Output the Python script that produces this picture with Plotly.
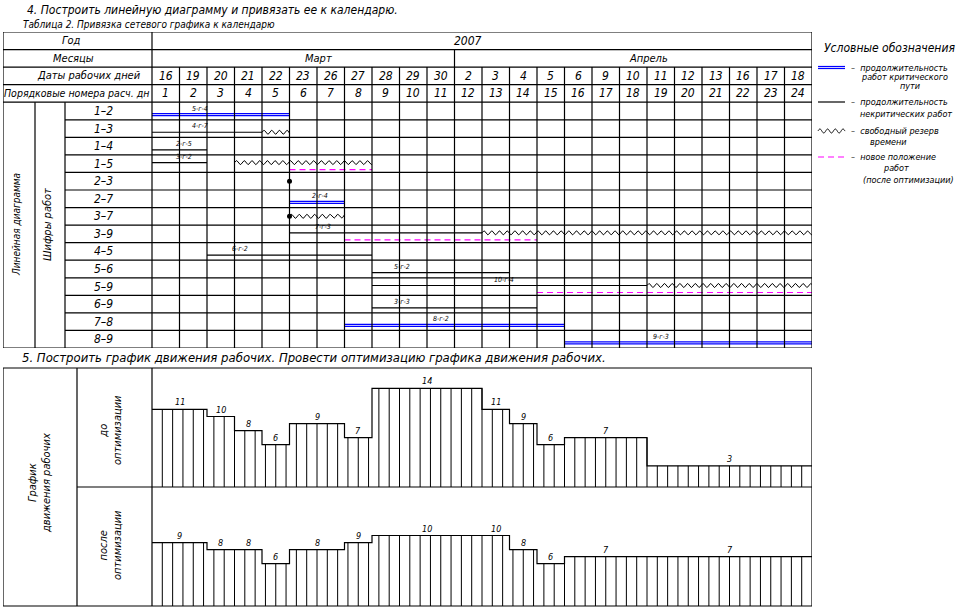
import numpy as np
import plotly.graph_objects as go

# ---------------- data ----------------
year = "2007"
months = ["Март", "Апрель"]
month_days = [11, 13]
dates = ["16", "19", "20", "21", "22", "23", "26", "27", "28", "29", "30",
         "2", "3", "4", "5", "6", "9", "10", "11", "12", "13", "16", "17", "18"]
day_numbers = [str(i) for i in range(1, 25)]

works = ["1–2", "1–3", "1–4", "1–5", "2–3", "2–7", "3–7", "3–9", "4–5", "5–6",
         "5–9", "6–9", "7–8", "8–9"]
work_start = [0, 0, 0, 0, 5, 5, 5, 5, 2, 8, 8, 8, 7, 15]
work_dur = [5, 4, 2, 2, 0, 2, 0, 7, 6, 5, 10, 6, 8, 9]
critical = [True, False, False, False, False, True, False, False, False, False,
            False, False, True, True]
work_label = ["5-г-4", "4-г-7", "2-г-5", "3-г-2", "", "2-г-4", "", "7-г-3",
              "6-г-2", "5-г-2", "10-г-4", "3-г-3", "8-г-2", "9-г-3"]
label_day = [1.75, 1.75, 1.15, 1.15, None, 6.1, None, 6.2, 3.2, 9.1, 12.8, 9.1,
             10.5, 18.5]
reserve_from = [None, 4, None, 3, None, None, 5, 12, None, None, 18, None, None, None]
reserve_to = [None, 5, None, 8, None, None, 7, 24, None, None, 24, None, None, None]
new_from = [None, None, None, 5, None, None, None, 7, None, None, 14, None, None, None]
new_to = [None, None, None, 8, None, None, None, 14, None, None, 24, None, None, None]

workers_before = [11, 11, 10, 8, 6, 9, 9, 7, 14, 14, 14, 14, 11, 9, 6, 7, 7, 7,
                  3, 3, 3, 3, 3, 3]
workers_after = [9, 9, 8, 8, 6, 8, 8, 9, 10, 10, 10, 10, 10, 8, 6, 7, 7, 7,
                 7, 7, 7, 7, 7, 7]
label_days_before = [1, 2.5, 3.5, 4.5, 6, 7.5, 10, 12.5, 13.5, 14.5, 16.5, 21]
label_days_after = [1, 2.5, 3.5, 4.5, 6, 7.5, 10, 12.5, 13.5, 14.5, 16.5, 21]

# ---------------- layout constants (pixels) ----------------
W, H = 961, 611
XL, XC1, XC2, X0, DW, XR = 3, 35, 65, 152, 27.5, 812
YT, YB = 32, 348
YB_TOP, YB_MID, YB_BOT, XB1 = 368, 487, 606, 77
PX_PER_WORKER = 7.05
NDAYS = len(dates)

FONT = "Liberation Sans Narrow, DejaVu Sans Condensed, Liberation Sans, sans-serif"
BLUE = "#0000ff"
MAG = "#ff00ff"
LW = 1.2


def d(px):  # pixel x -> day units
    return (px - X0) / DW


def px(x):
    return x / W


def py(y):
    return 1 - y / H


fig = go.Figure()
shapes = []
ann = []


def line(x0, y0, x1, y1, xref="x", yref="y", color="black", width=LW, dash=None):
    ln = dict(color=color, width=width)
    if dash:
        ln["dash"] = dash
    shapes.append(dict(type="line", x0=x0, y0=y0, x1=x1, y1=y1, xref=xref,
                       yref=yref, line=ln, layer="above"))


def text(t, x, y, size=11, xref="paper", yref="paper", xanchor="center",
         angle=0, yshift=0, align="center"):
    ann.append(dict(text=t, x=x, y=y, xref=xref, yref=yref, showarrow=False,
                    xanchor=xanchor, yanchor="middle", textangle=angle,
                    yshift=yshift, align=align,
                    font=dict(family=FONT, size=size, color="black", style="italic")))


# ---------------- table grid ----------------
NR = len(works)
line(d(XL), -4, NDAYS, -4)
line(d(XL), NR, NDAYS, NR)
line(d(XL), -4, d(XL), NR)
line(NDAYS, -4, NDAYS, NR)
for yy in [-3, -2, -1, 0]:
    line(d(XL), yy, NDAYS, yy)
for yy in range(1, NR):
    line(d(XC2), yy, NDAYS, yy)
line(0, -4, 0, NR)
cum = 0
for m in month_days[:-1]:
    cum += m
    line(cum, -3, cum, -2)
for k in range(1, NDAYS):
    line(k, -2, k, NR)
line(d(XC1), 0, d(XC1), NR)
line(d(XC2), 0, d(XC2), NR)

# header texts
text("Год", px(71), -3.5, 11, yref="y")
text("Месяцы", px(73), -2.5, 11, yref="y")
text("Даты рабочих дней", px(89), -1.5, 11, yref="y")
text("Порядковые номера расч. дн", px(76), -0.5, 10.5, yref="y")
text(year, px(468), -3.5, 12, yref="y")
cum = 0
for m, n in zip(months, month_days):
    text(m, cum + n / 2 + 0.55, -2.5, 11, xref="x", yref="y")
    cum += n
for i, (dt, nm) in enumerate(zip(dates, day_numbers)):
    text(dt, i + 0.5, -1.5, 12, xref="x", yref="y")
    text(nm, i + 0.5, -0.5, 12, xref="x", yref="y")
for i, w in enumerate(works):
    text(w, px(103), i + 0.5, 12, yref="y")

text("Линейная диаграмма", px(16), NR / 2, 10, yref="y", angle=-90)
text("Шифры работ", px(47), NR / 2, 11, yref="y", angle=-90)

# ---------------- gantt marks ----------------
ROW_PX = (YB - YT) / 18.0
one_px = 1.0 / ROW_PX


def wave(a, b, level, period=0.28, amp=2.0 * one_px):
    n = int(round((b - a) / period * 12))
    xs = np.linspace(a, b, n + 1)
    ys = level - amp * np.sin(2 * np.pi * (xs - a) / period)
    return xs, ys


def add_line(xs, ys, color="black", width=1, dash=None):
    ln = dict(color=color, width=width)
    if dash:
        ln["dash"] = dash
    fig.add_trace(go.Scatter(x=list(xs), y=list(ys), mode="lines", line=ln,
                             xaxis="x", yaxis="y", hoverinfo="skip",
                             showlegend=False))


for i in range(NR):
    s, du = work_start[i], work_dur[i]
    has_new = new_from[i] is not None
    if has_new:
        lvl = i + 0.44
    elif du == 0:
        lvl = i + 0.5
    else:
        lvl = i + 0.71
    if du > 0:
        if critical[i]:
            add_line([s, s + du], [lvl - one_px, lvl - one_px], BLUE, 1.2)
            add_line([s, s + du], [lvl + one_px, lvl + one_px], BLUE, 1.2)
        else:
            add_line([s, s + du], [lvl, lvl], "black", 1.2)
    else:
        fig.add_trace(go.Scatter(x=[s], y=[lvl], mode="markers",
                                 marker=dict(color="black", size=5),
                                 xaxis="x", yaxis="y", hoverinfo="skip",
                                 showlegend=False))
    if reserve_from[i] is not None:
        xs, ys = wave(reserve_from[i], reserve_to[i], lvl)
        add_line(xs, ys, "black", 1)
    if has_new:
        add_line([new_from[i], new_to[i]], [i + 0.84, i + 0.84], MAG, 1.2, "6px,4px")
    if work_label[i]:
        text(work_label[i], label_day[i], lvl, 7, xref="x", yref="y", yshift=6)

# ---------------- workers chart ----------------
line(d(XL), py(YB_TOP), NDAYS, py(YB_TOP), yref="paper")
line(d(XL), py(YB_BOT), NDAYS, py(YB_BOT), yref="paper")
line(d(XL), py(YB_TOP), d(XL), py(YB_BOT), yref="paper")
line(NDAYS, py(YB_TOP), NDAYS, py(YB_BOT), yref="paper")
line(d(XB1), py(YB_TOP), d(XB1), py(YB_BOT), yref="paper")
line(0, py(YB_TOP), 0, py(YB_BOT), yref="paper")
line(d(XB1), py(YB_MID), NDAYS, py(YB_MID), yref="paper")

YMAX = (YB_MID - YB_TOP) / PX_PER_WORKER


def workers_panel(vals, yaxis, label_days):
    xs = list(range(NDAYS)) + [NDAYS]
    ys = list(vals) + [vals[-1]]
    fig.add_trace(go.Scatter(x=xs, y=ys, mode="lines", line=dict(color="black", width=1.2, shape="hv"),
                             xaxis="x", yaxis=yaxis, hoverinfo="skip", showlegend=False))
    hx, hy = [], []
    nh = 64
    for k in range(1, nh):
        xv = k * NDAYS / nh
        j = int(xv)
        if abs(xv - j) < 1e-9 and j > 0:
            v = max(vals[j - 1], vals[min(j, NDAYS - 1)])
        else:
            v = vals[min(j, NDAYS - 1)]
        hx += [xv, xv, None]
        hy += [0, v, None]
    fig.add_trace(go.Scatter(x=hx, y=hy, mode="lines", line=dict(color="black", width=1),
                             xaxis="x", yaxis=yaxis, hoverinfo="skip", showlegend=False))
    for ld in label_days:
        v = vals[int(ld) if ld < NDAYS else NDAYS - 1]
        text(str(v), ld, v, 9, xref="x", yref=yaxis, yshift=7)


workers_panel(workers_before, "y2", label_days_before)
workers_panel(workers_after, "y3", label_days_after)

text("График<br>движения рабочих", px(39), py(483), 11, angle=-90)
text("до<br>оптимизации", px(110), py(430), 11, angle=-90)
text("после<br>оптимизации", px(110), py(545), 11, angle=-90)

# ---------------- titles ----------------
text("4. Построить линейную диаграмму и привязать ее к календарю.", px(25), py(10), 12, xanchor="left")
text("Таблица 2. Привязка сетевого графика к календарю", px(21), py(24), 10, xanchor="left")
text("5. Построить график движения рабочих. Провести оптимизацию графика движения рабочих.",
     px(20), py(357), 13, xanchor="left")

# ---------------- legend ----------------
text("Условные обозначения", px(822), py(48), 12, xanchor="left")
LX0, LX1 = 818, 845
for yy in (66.5, 68.5):
    line(px(LX0), py(yy), px(LX1), py(yy), xref="paper", yref="paper", color=BLUE, width=1.2)
line(px(LX0), py(102), px(LX1), py(102), xref="paper", yref="paper")
wx = np.linspace(LX0, LX1, 80)
wy = 131 - 2.0 * np.sin(2 * np.pi * (wx - LX0) / 7.7)
path = "M " + " L ".join(f"{px(a):.5f},{py(b):.5f}" for a, b in zip(wx, wy))
shapes.append(dict(type="path", path=path, xref="paper", yref="paper",
                   line=dict(color="black", width=1), layer="above"))
line(px(LX0), py(157), px(LX1), py(157), xref="paper", yref="paper", color=MAG,
     width=1.2, dash="6px,4px")

LS = 9
text("–  продолжительность", px(849), py(67.5), LS, xanchor="left")
text("работ критического", px(904), py(77), LS)
text("пути", px(910), py(86.5), LS)
text("–  продолжительность", px(849), py(102), LS, xanchor="left")
text("некритических работ", px(906), py(114), LS)
text("–  свободный резерв", px(849), py(131), LS, xanchor="left")
text("времени", px(888), py(142), LS)
text("–  новое положение", px(849), py(157), LS, xanchor="left")
text("работ", px(896), py(168), LS)
text("(после оптимизации)", px(908), py(180), LS)

# ---------------- axes ----------------
fig.update_layout(
    width=W, height=H,
    margin=dict(l=0, r=0, t=0, b=0),
    paper_bgcolor="white", plot_bgcolor="white",
    showlegend=False,
    xaxis=dict(domain=[px(XL), px(XR)], range=[d(XL), NDAYS], visible=False,
               fixedrange=True),
    yaxis=dict(domain=[py(YB), py(YT)], range=[NR, -4], visible=False,
               fixedrange=True),
    yaxis2=dict(domain=[py(YB_MID), py(YB_TOP)], range=[0, YMAX], visible=False,
                anchor="x", fixedrange=True),
    yaxis3=dict(domain=[py(YB_BOT), py(YB_MID)], range=[0, YMAX], visible=False,
                anchor="x", fixedrange=True),
    shapes=shapes,
    annotations=ann,
)

fig.write_html("out.html", config={"displayModeBar": False},
               post_script="document.body.style.margin='0';document.body.style.overflow='hidden';")
